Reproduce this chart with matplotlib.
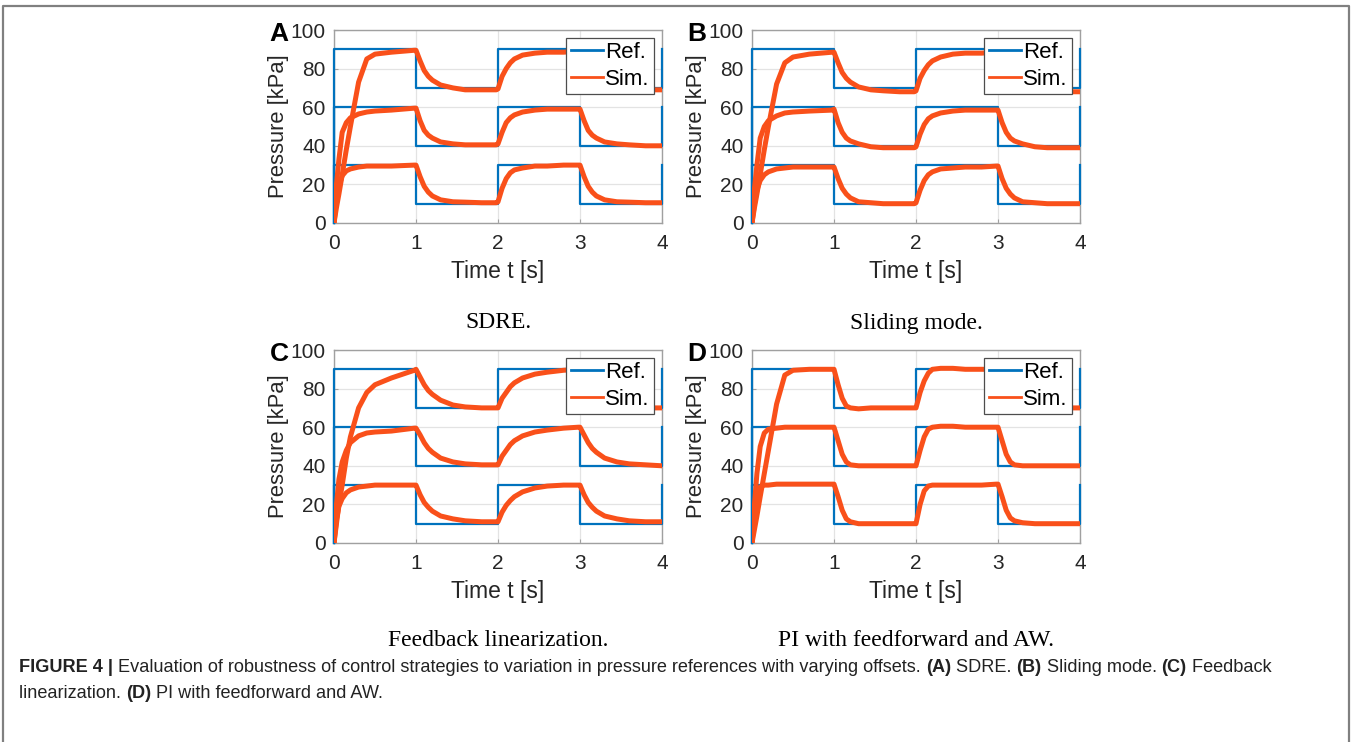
import matplotlib
matplotlib.use('Agg')
import matplotlib.pyplot as plt
from matplotlib.lines import Line2D

plt.rcParams['font.family'] = ['Liberation Sans', 'DejaVu Sans']

# time grid shared by all simulated curves [s]
T = [0, 0.03, 0.06, 0.1, 0.15, 0.2, 0.3, 0.4, 0.5, 0.7, 0.98,
     1.0, 1.05, 1.1, 1.15, 1.2, 1.3, 1.45, 1.6, 1.8, 1.98,
     2.0, 2.05, 2.1, 2.15, 2.2, 2.3, 2.45, 2.6, 2.8, 2.98,
     3.0, 3.05, 3.1, 3.15, 3.2, 3.3, 3.45, 3.6, 3.8, 4.0]

# reference steps (offsets 90/70, 60/40, 30/10 kPa)
REF_T = [0, 0, 1, 2, 3, 4]
REF_TOP = [0, 90, 70, 90, 70, 90]
REF_MID = [0, 60, 40, 60, 40, 60]
REF_BOT = [0, 30, 10, 30, 10, 30]

# (A) SDRE
A_TOP = [0, 8, 15, 25, 38, 50, 73, 85, 87.5, 88.5, 89.5,
         89.5, 84, 79, 76, 74, 71.5, 70, 69, 69, 69,
         69.5, 76, 80, 83, 85, 87, 88, 88.5, 88.5, 89,
         89.5, 84, 79, 76, 74, 71.5, 70, 69, 69, 69]
A_MID = [0, 20, 33, 47, 52, 54.5, 56.5, 57.5, 58, 58.5, 59.5,
         59.5, 53, 48, 45.5, 44, 42, 41, 40.5, 40.5, 40.5,
         41, 47, 52, 54.5, 56, 57.5, 58.5, 59, 59, 59,
         59, 53, 48, 45.5, 44, 42, 41, 40.5, 40, 40]
A_BOT = [0, 12, 19, 24.5, 27, 28, 29, 29.5, 29.5, 29.5, 30,
         30, 24, 19, 16, 14, 12, 11, 10.8, 10.5, 10.5,
         11, 18, 23, 26, 27.5, 28.5, 29.5, 29.5, 30, 30,
         30, 24, 19, 16, 14, 12, 11, 10.8, 10.5, 10.5]

# (B) Sliding mode
B_TOP = [0, 8, 15, 25, 38, 50, 72, 83, 86, 87.5, 88.5,
         88.5, 83, 78, 75, 73, 70.5, 69, 68.5, 68, 68,
         68.5, 75, 79, 82, 84, 86, 87.5, 88, 88, 88.5,
         88.5, 83, 78, 75, 73, 70.5, 69, 68.5, 68, 68]
B_MID = [0, 18, 30, 44, 50, 53, 55.5, 57, 57.5, 58, 58.5,
         59, 52, 47, 44, 42.5, 41, 39.5, 39, 39, 39,
         39.5, 46, 51, 54, 55.5, 57, 58, 58.5, 58.5, 58.5,
         58.5, 52, 47, 44, 42.5, 41, 39.5, 39, 39, 39]
B_BOT = [0, 10, 17, 22, 25, 26.5, 28, 28.5, 29, 29, 29,
         29, 23, 18, 15, 13, 11, 10.5, 10, 10, 10,
         10.5, 17, 22, 25, 26.5, 28, 28.5, 29, 29, 29.5,
         29.5, 23, 18, 15, 13, 11, 10.5, 10, 10, 10]

# (C) Feedback linearization
C_TOP = [0, 10, 20, 30, 44, 55, 70, 78, 82, 85.5, 89.5,
         90, 86, 82, 79, 77, 74, 71.5, 70.5, 70, 70,
         70, 75, 78, 81, 83, 85.5, 87.5, 88.5, 89.5, 90,
         90, 86, 82, 79, 77, 74, 71.5, 70.5, 70, 70]
C_MID = [0, 20, 33, 42, 48, 52, 55.5, 57, 57.5, 58, 59.5,
         59.5, 56, 52, 49, 47, 44, 42, 41, 40.5, 40.5,
         40.5, 45, 48, 51, 53, 55.5, 57.5, 58.5, 59.5, 60,
         60, 56, 52, 49, 47, 44, 42, 41, 40.5, 40]
C_BOT = [0, 12, 19, 23, 26, 27.5, 29, 29.5, 30, 30, 30,
         30, 25, 21, 18.5, 16.5, 14, 12.5, 11.5, 11, 11,
         11, 16, 19.5, 22, 24, 26.5, 28.5, 29.5, 30, 30,
         30, 25, 21, 18.5, 16.5, 14, 12.5, 11.5, 11, 11]

# (D) PI with feedforward and AW
D_TOP = [0, 7, 14, 24, 36, 48, 72, 87, 89.5, 90, 90,
         90, 82, 75, 71, 70, 69.5, 70, 70, 70, 70,
         70, 78, 84, 88, 90, 90.5, 90.5, 90, 90, 90,
         90, 82, 75, 71, 70, 70, 70, 70, 70, 70]
D_MID = [0, 20, 36, 50, 57, 59, 59.5, 60, 60, 60, 60,
         60, 53, 46, 42, 40.5, 40, 40, 40, 40, 40,
         40, 48, 55, 59, 60, 60.5, 60.5, 60, 60, 60,
         60, 53, 46, 42, 40.5, 40, 40, 40, 40, 40]
D_BOT = [0, 14, 24, 29, 30, 30, 30.5, 30.5, 30.5, 30.5, 30.5,
         30.5, 24, 17, 12.5, 11, 10, 10, 10, 10, 10,
         10, 20, 27, 29.5, 30, 30, 30, 30, 30, 30.5,
         30.5, 24, 17, 13, 11.5, 10.5, 10, 10, 10, 10]

PANELS = [
    ('A', 'SDRE.', [A_TOP, A_MID, A_BOT]),
    ('B', 'Sliding mode.', [B_TOP, B_MID, B_BOT]),
    ('C', 'Feedback linearization.', [C_TOP, C_MID, C_BOT]),
    ('D', 'PI with feedforward and AW.', [D_TOP, D_MID, D_BOT]),
]

REF_COLOR = '#0072BD'
SIM_COLOR = '#F9501A'
TXT = '#262626'

W, H = 1352, 742
fig = plt.figure(figsize=(W / 100, H / 100), dpi=100)

# axes boxes in pixels: left, top, right, bottom
boxes = [(334, 30, 662, 223), (752, 30, 1080, 223),
         (334, 350, 662, 543), (752, 350, 1080, 543)]
subcap_y = [323, 323, 640, 640]

for (letter, name, sims), (l, t, r, b), sy in zip(PANELS, boxes, subcap_y):
    ax = fig.add_axes([l / W, 1 - b / H, (r - l) / W, (b - t) / H])
    for ref in (REF_TOP, REF_MID, REF_BOT):
        ax.step(REF_T, ref, where='post', color=REF_COLOR, lw=1.6,
                zorder=3, clip_on=False)
    for sim in sims:
        ax.plot(T, sim, color=SIM_COLOR, lw=3.6, zorder=4,
                solid_joinstyle='round')
    ax.set_xlim(0, 4)
    ax.set_ylim(0, 100)
    ax.set_xticks([0, 1, 2, 3, 4])
    ax.set_yticks([0, 20, 40, 60, 80, 100])
    ax.grid(True, color='#e3e3e3', lw=0.9)
    ax.set_axisbelow(True)
    for sp in ax.spines.values():
        sp.set_color('#a0a0a0')
        sp.set_linewidth(1.0)
    ax.tick_params(direction='in', length=3, width=0.8, color='#a0a0a0',
                   labelsize=15, labelcolor=TXT)
    ax.tick_params(axis='x', pad=8)
    ax.tick_params(axis='y', pad=6)
    ax.set_xlabel('Time t [s]', fontsize=16.5, color=TXT, labelpad=5)
    ax.set_ylabel('Pressure [kPa]', fontsize=15.8, color=TXT)
    ax.yaxis.set_label_coords(-45 / (r - l), 0.5)
    handles = [Line2D([], [], color=REF_COLOR, lw=2),
               Line2D([], [], color=SIM_COLOR, lw=2)]
    leg = ax.legend(handles, ['Ref.', 'Sim.'], loc='upper right',
                    fontsize=16, fancybox=False, framealpha=1,
                    edgecolor='#4d4d4d', borderaxespad=0.35,
                    handlelength=1.45, handletextpad=0.1,
                    borderpad=0.2, labelspacing=0.25)
    leg.get_frame().set_linewidth(0.9)
    leg.set_zorder(10)
    fig.text((l - 55) / W, 1 - (t + 4) / H, letter, fontsize=19,
             fontweight='bold', ha='center', va='center')
    fig.text((l + r) / 2 / W, 1 - sy / H, name, fontsize=17,
             family='Liberation Serif', ha='center', va='center')

# frame around the figure (open at the bottom)
fig.add_artist(Line2D([3 / W, 3 / W, 1349 / W, 1349 / W],
                      [0, 1 - 6 / H, 1 - 6 / H, 0], color='#808080', lw=1.6,
                      transform=fig.transFigure))

# caption with bold parts
renderer = fig.canvas.get_renderer()
cap_lines = [
    [('FIGURE 4 | ', True),
     ('Evaluation of robustness of control strategies to variation in pressure '
      'references with varying offsets. ', False),
     ('(A)', True), (' SDRE. ', False), ('(B)', True),
     (' Sliding mode. ', False), ('(C)', True), (' Feedback', False)],
    [('linearization. ', False), ('(D)', True),
     (' PI with feedforward and AW.', False)],
]
cap_y = [667, 694]
for pieces, y in zip(cap_lines, cap_y):
    x = 19
    for s, bold in pieces:
        txt = fig.text(x / W, 1 - y / H, s, fontsize=13.1,
                       fontweight='bold' if bold else 'normal',
                       color='#222222', ha='left', va='center')
        x += txt.get_window_extent(renderer).width

fig.savefig('out.png', dpi=100)
